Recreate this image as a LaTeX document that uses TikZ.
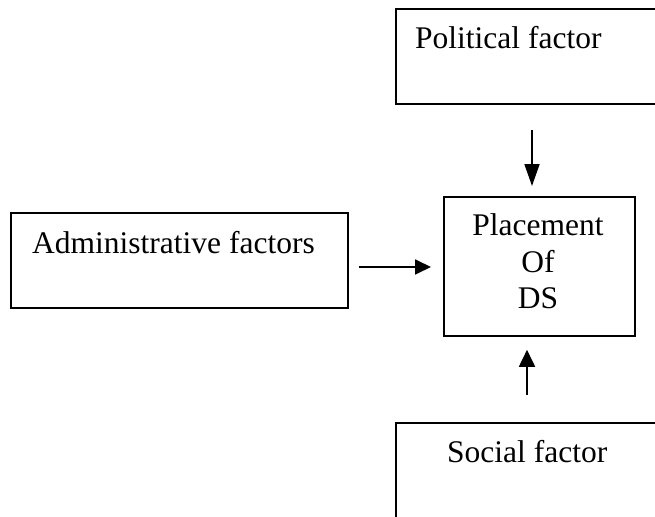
\documentclass[tikz,border=0pt]{standalone}
\usepackage{fontspec}
\setmainfont{Liberation Serif}
\usetikzlibrary{arrows.meta}
\begin{document}
\begin{tikzpicture}[x=1pt,y=-1pt,
  box/.style={draw,line width=1.8pt,rectangle,inner sep=0pt},
  lbl/.style={font=\fontsize{31.5}{36.5}\selectfont,inner sep=0pt,anchor=base west},
  arr/.style={line width=1.8pt}]
\useasboundingbox (0,0) rectangle (655,516);
\clip (0,0) rectangle (655,516);
% boxes
\node[box,anchor=north west,minimum width=300pt,minimum height=95pt] (pol) at (395,8) {};
\node[box,anchor=north west,minimum width=337pt,minimum height=95pt] (adm) at (10,212) {};
\node[box,anchor=north west,minimum width=191pt,minimum height=139pt] (pl) at (443,196) {};
\node[box,anchor=north west,minimum width=300pt,minimum height=120pt] (soc) at (395,422) {};
% texts
\node[lbl] (polt) at (415,49) {Political factor};
\node[lbl] (admt) at (32,253) {Administrative factors};
\node[lbl] (soct) at (447,462) {Social factor};
\node[lbl,anchor=base] (plt1) at (538,235) {Placement};
\node[lbl,anchor=base] (plt2) at (538,272) {Of};
\node[lbl,anchor=base] (plt3) at (538,308) {DS};
% arrows
\draw[arr,-{Triangle[length=22pt,width=15pt]},shorten <=25pt,shorten >=10pt] (532,0 |- pol.south) -- (532,0 |- pl.north);
\draw[arr,-{Triangle[length=16pt,width=15pt]},shorten <=10pt,shorten >=12pt] (adm.east |- 0,267) -- (pl.west |- 0,267);
\draw[arr,-{Triangle[length=17pt,width=16pt]},shorten <=27pt,shorten >=13pt] (527,0 |- soc.north) -- (527,0 |- pl.south);
\end{tikzpicture}
\end{document}
